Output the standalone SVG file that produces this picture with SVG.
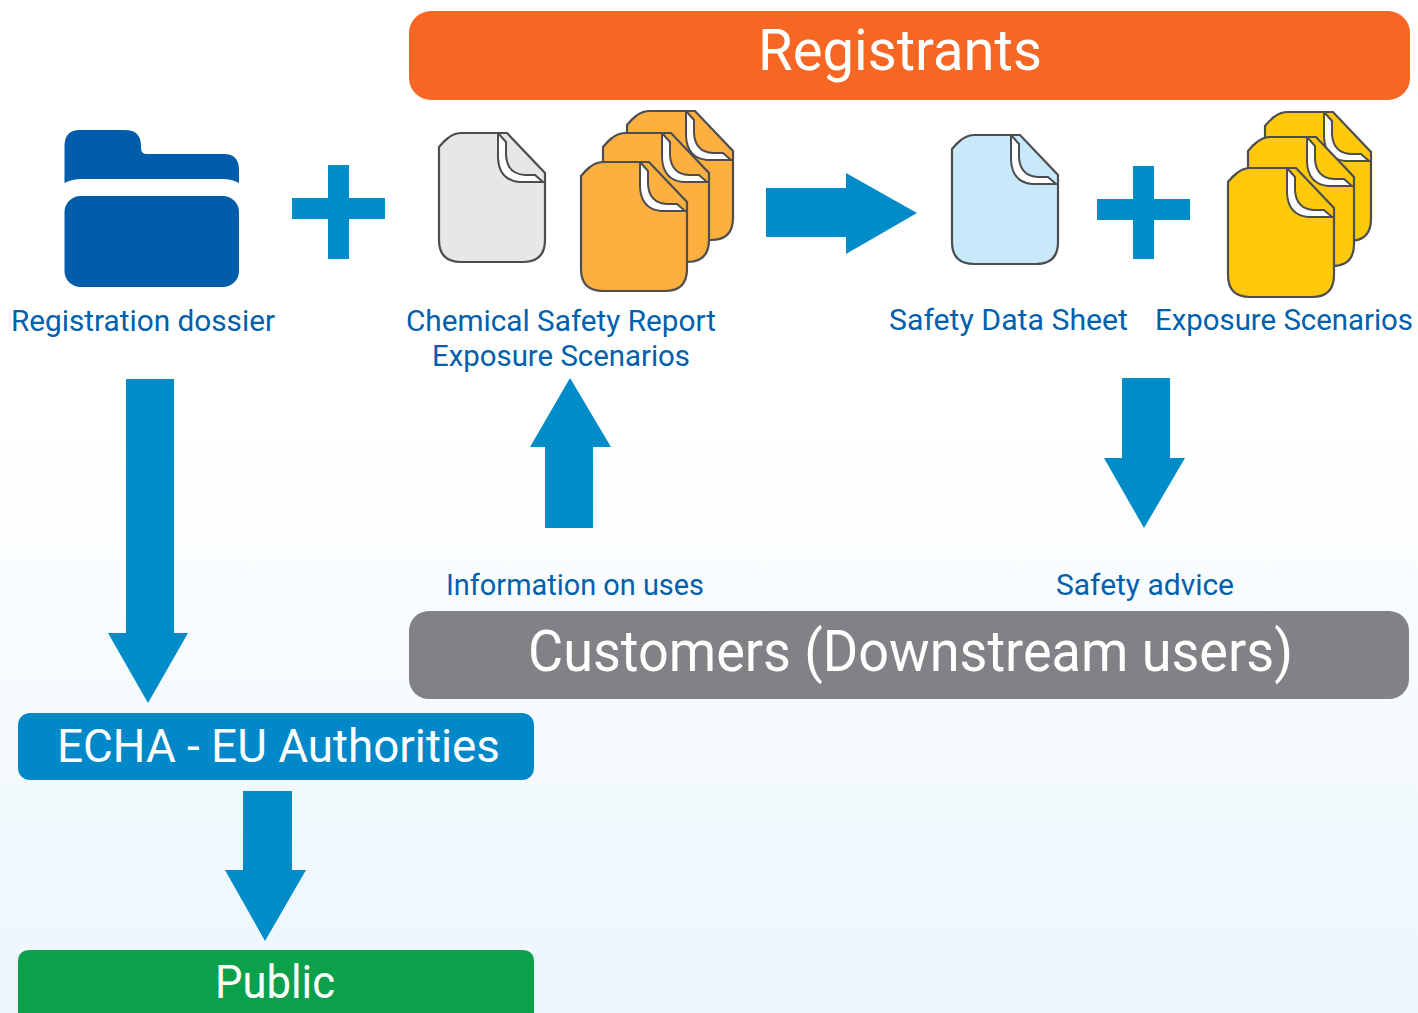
<svg xmlns="http://www.w3.org/2000/svg" xmlns:xlink="http://www.w3.org/1999/xlink" width="1418" height="1013" viewBox="0 0 1418 1013">
<style>
.lbl{font-family:"Roboto","Liberation Sans",sans-serif;fill:#0060ac;font-size:30px}
.bar{font-family:"Roboto","Liberation Sans",sans-serif;fill:#fff}
.arr{fill:#008cc8}
.doc{stroke:#4d4d4f;stroke-width:2.2}
.fold{fill:none;stroke:#4d4d4f;stroke-width:2}
</style>
<defs>
<linearGradient id="bg" x1="0" y1="0" x2="0" y2="1"><stop offset="0.42" stop-color="#fff"/><stop offset="1" stop-color="#ebf6fd"/></linearGradient>
<g id="page">
<path class="doc" d="M0,14 Q5,8 9,5 Q15,0 23,0 H68 L106,40 V107 Q106,129 84,129 H22 Q0,129 0,107 Z"/>
<path fill="#fff" d="M59,0 L67,9 V22 Q68,41 86,42 H96 L104,49 H80 Q60,47 59,25 Z"/>
<path class="fold" d="M59,0 V25 Q60,47 80,49 H106 M59,0 L67,9 V22 Q68,41 86,42 H96 L104,49"/>
</g>
</defs>
<rect width="1418" height="1013" fill="url(#bg)"/>
<g id="connectors">
<path class="arr" d="M126,379 H174 V633 H188 L148,703 L108,633 H126 Z"/>
<path class="arr" d="M766,188 H846 V173 L917,213 L846,254 V237 H766 Z"/>
<path class="arr" d="M545,528 V447 H530 L570,378 L611,447 H593 V528 Z"/>
<path class="arr" d="M1122,378 H1170 V458 H1185 L1144,528 L1104,458 H1122 Z"/>
<path class="arr" d="M243,791 H292 V870 H306 L265,941 L225,870 H243 Z"/>
<path class="arr" d="M328,165 H349 V198 H385 V219 H349 V259 H328 V219 H292 V198 H328 Z"/>
<path class="arr" d="M1133,166 H1154 V199 H1190 V220 H1154 V259 H1133 V220 H1097 V199 H1133 Z"/>
</g>
<g id="registrants"><rect x="409" y="11" width="1001" height="89" rx="22" fill="#f56723"/><text class="bar" x="758" y="70" font-size="58" textLength="284" lengthAdjust="spacingAndGlyphs">Registrants</text></g>
<g id="customers"><rect x="409" y="611" width="1000" height="88" rx="20" fill="#808285"/><text class="bar" x="528" y="671" font-size="58" textLength="765" lengthAdjust="spacingAndGlyphs">Customers (Downstream users)</text></g>
<g id="echa"><rect x="18" y="713" width="516" height="67" rx="12" fill="#0088c9"/><text class="bar" x="57" y="762" font-size="47" textLength="443" lengthAdjust="spacingAndGlyphs">ECHA - EU Authorities</text></g>
<g id="public"><path d="M18,1013 V962 Q18,950 30,950 H522 Q534,950 534,962 V1013 Z" fill="#0ba14a"/><text class="bar" x="215" y="998" font-size="47" textLength="120" lengthAdjust="spacingAndGlyphs">Public</text></g>
<g id="registration-dossier">
<path fill="#005dac" d="M64.500,183 V146 Q64.500,130 80,130 H125 Q141,130 141,146 V148 Q141,154 147,154 H224 Q239,154 239,170 V183 Q232,179 222,179 H82 Q72,179 64.500,183 Z"/>
<rect x="64.500" y="196" width="174.500" height="91" rx="16" fill="#005dac"/>
<text class="lbl" x="11" y="331" textLength="264" lengthAdjust="spacingAndGlyphs">Registration dossier</text>
</g>
<g id="chemical-safety-report">
<use href="#page" x="439" y="133" fill="#e6e7e8"/>
<use href="#page" x="627" y="111" fill="#fdb040"/>
<use href="#page" x="603" y="133" fill="#fdb040"/>
<use href="#page" x="581" y="162" fill="#fdb040"/>
<text class="lbl" x="406" y="331" textLength="310" lengthAdjust="spacingAndGlyphs">Chemical Safety Report</text>
<text class="lbl" x="432" y="366" textLength="258" lengthAdjust="spacingAndGlyphs">Exposure Scenarios</text>
</g>
<g id="safety-data-sheet">
<use href="#page" x="952" y="135" fill="#c8e9fb"/>
<text class="lbl" x="889" y="330" textLength="239" lengthAdjust="spacingAndGlyphs">Safety Data Sheet</text>
</g>
<g id="exposure-scenarios">
<use href="#page" x="1265" y="112" fill="#ffc90b"/>
<use href="#page" x="1248" y="137" fill="#ffc90b"/>
<use href="#page" x="1228" y="168" fill="#ffc90b"/>
<text class="lbl" x="1155" y="330" textLength="258" lengthAdjust="spacingAndGlyphs">Exposure Scenarios</text>
</g>
<g id="information-on-uses"><text class="lbl" x="446" y="595" textLength="258" lengthAdjust="spacingAndGlyphs">Information on uses</text></g>
<g id="safety-advice"><text class="lbl" x="1056" y="595" textLength="178" lengthAdjust="spacingAndGlyphs">Safety advice</text></g>
</svg>
